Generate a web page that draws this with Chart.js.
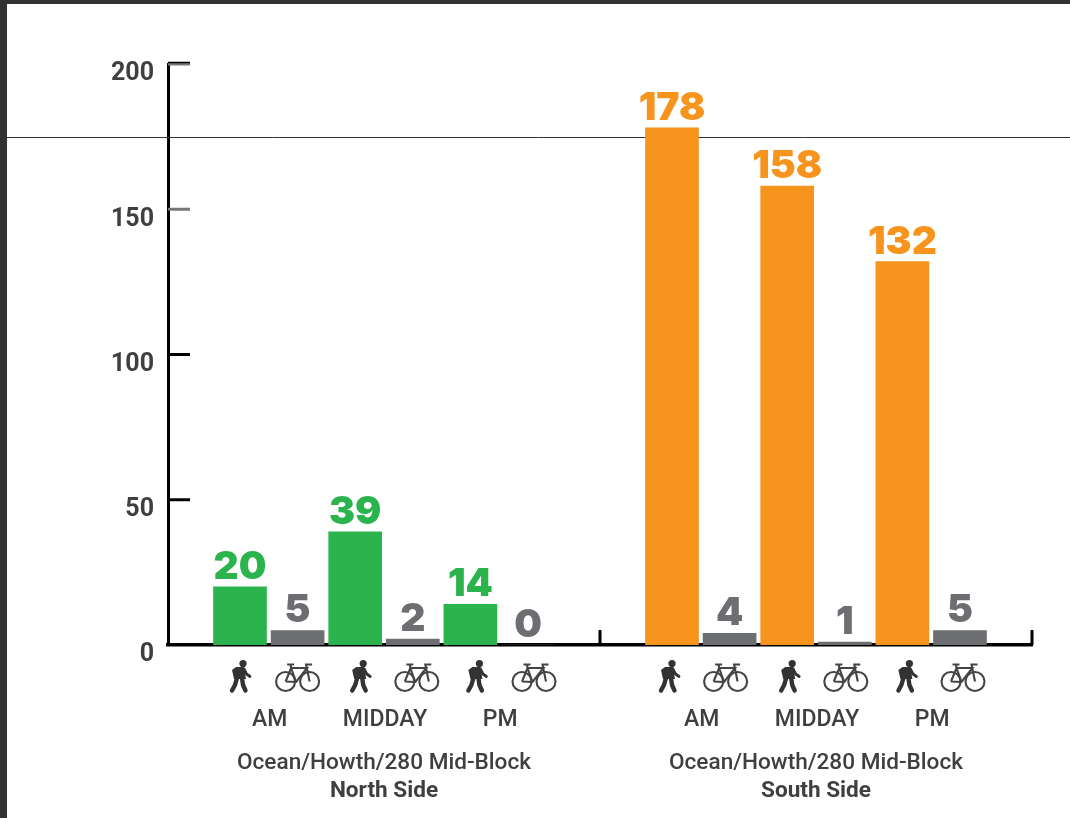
<!DOCTYPE html>
<html>
<head>
<meta charset="utf-8">
<script src="https://cdn.jsdelivr.net/npm/chart.js@4"></script>
<style>
    html, body { margin: 0; padding: 0; background: #fff; overflow: hidden; }
    #chart { position: absolute; left: 0; top: 0; }
    #frame {
        position: absolute; left: 0; top: 0; width: 1070px; height: 818px;
        box-sizing: border-box; border-top: 4px solid #333; border-left: 7px solid #333;
        pointer-events: none;
    }
</style>
</head>
<body>
<canvas id="chart" width="1070" height="818"></canvas>
<div id="frame"></div>
<script>
const periods = ['AM', 'MIDDAY', 'PM'];
const northWalk = [20, 39, 14];
const northBike = [5, 2, 0];
const southWalk = [178, 158, 132];
const southBike = [4, 1, 5];
const captions = ['Ocean/Howth/280 Mid-Block', 'Ocean/Howth/280 Mid-Block'];
const sides = ['North Side', 'South Side'];
const yTicks = [0, 50, 100, 150, 200];
const referenceValue = 175;

const GREEN = '#2bb44d';
const ORANGE = '#f7941e';
const GRAY = '#6d6e71';
const INK = '#3f3f40';

// The x axis is cut in 30 thin slots, a bar sits on every second one
const SLOT_COUNT = 30;
const NORTH_START = 2;
const SOUTH_START = 17;
const GROUP_DIVIDER = 14.5;

const slotLabels = new Array(SLOT_COUNT).fill('');
const slotsFor = (values, start) => {
    const slots = new Array(SLOT_COUNT).fill(null);
    values.forEach((v, i) => {
        slots[start + i * 4] = v;
        slotLabels[start + i * 4] = periods[i];
    });
    return slots;
};

const bar = (label, values, start, color) => ({
    label,
    data: slotsFor(values, start),
    backgroundColor: color,
    barThickness: 53
});

const drawWalker = (ctx, cx, top) => {
    ctx.save();
    ctx.translate(cx - 10, top);
    ctx.fillStyle = '#333';
    ctx.strokeStyle = '#333';
    ctx.lineCap = 'round';
    ctx.lineJoin = 'round';
    ctx.beginPath();
    ctx.arc(13, 3.6, 3.6, 0, Math.PI * 2);
    ctx.fill();
    // backpack and body
    ctx.beginPath();
    ctx.moveTo(2, 10);
    ctx.lineTo(6, 7);
    ctx.lineTo(14, 7);
    ctx.lineTo(16, 19);
    ctx.lineTo(4, 19);
    ctx.closePath();
    ctx.fill();
    // arm
    ctx.lineWidth = 2.8;
    ctx.beginPath();
    ctx.moveTo(14, 9);
    ctx.lineTo(16.5, 14);
    ctx.lineTo(20, 16.5);
    ctx.stroke();
    // legs
    ctx.lineWidth = 4.4;
    ctx.beginPath();
    ctx.moveTo(7, 18);
    ctx.lineTo(5, 25);
    ctx.lineTo(2, 30.5);
    ctx.moveTo(12, 18);
    ctx.lineTo(13, 25);
    ctx.lineTo(15.5, 30.5);
    ctx.stroke();
    ctx.restore();
};

const drawBike = (ctx, cx, top) => {
    ctx.save();
    ctx.translate(cx - 22.5, top);
    ctx.strokeStyle = '#444';
    ctx.lineWidth = 2.1;
    [[10.5, 18.5], [34.5, 18.5]].forEach(([x, y]) => {
        ctx.beginPath();
        ctx.arc(x, y, 9.5, 0, Math.PI * 2);
        ctx.stroke();
    });
    ctx.beginPath();
    ctx.moveTo(10.5, 18.5);
    ctx.lineTo(16, 5);
    ctx.lineTo(32, 5);
    ctx.lineTo(21, 19);
    ctx.lineTo(10.5, 18.5);
    ctx.moveTo(16, 5);
    ctx.lineTo(21, 19);
    ctx.moveTo(34.5, 18.5);
    ctx.lineTo(31, 1.5);
    ctx.lineTo(37, 1.5);
    ctx.moveTo(12, 1.5);
    ctx.lineTo(19, 1.5);
    ctx.moveTo(15.5, 1.5);
    ctx.lineTo(16, 5);
    ctx.stroke();
    ctx.restore();
};

// Axis details sitting under the bars
const axisMarks = {
    id: 'axisMarks',
    beforeDatasetsDraw(chart) {
        const { ctx, chartArea, scales } = chart;
        const { x, y } = scales;
        ctx.save();

        // thin line running across the page
        ctx.strokeStyle = '#333';
        ctx.lineWidth = 1;
        const refY = Math.round(y.getPixelForValue(referenceValue)) + 0.5;
        ctx.beginPath();
        ctx.moveTo(7, refY);
        ctx.lineTo(chart.width, refY);
        ctx.stroke();

        // ticks inside the y axis
        yTicks.forEach(v => {
            if (v === 0) return;
            const py = y.getPixelForValue(v);
            ctx.strokeStyle = v >= 150 ? '#777' : '#000';
            ctx.lineWidth = 3;
            ctx.beginPath();
            ctx.moveTo(chartArea.left, py);
            ctx.lineTo(chartArea.left + 22, py);
            ctx.stroke();
        });
        ctx.strokeStyle = '#000';
        ctx.lineWidth = 1.5;
        ctx.beginPath();
        ctx.moveTo(chartArea.left, chartArea.top - 1.5);
        ctx.lineTo(chartArea.left + 22, chartArea.top - 1.5);
        ctx.stroke();

        // group dividers on the x axis
        ctx.lineWidth = 3;
        [x.getPixelForValue(GROUP_DIVIDER), chartArea.right].forEach(px => {
            ctx.beginPath();
            ctx.moveTo(px, chartArea.bottom);
            ctx.lineTo(px, chartArea.bottom - 15);
            ctx.stroke();
        });
        ctx.restore();
    }
};

const barValues = {
    id: 'barValues',
    afterDatasetsDraw(chart) {
        const { ctx } = chart;
        ctx.save();
        ctx.font = '900 39px Inter, "Liberation Sans", sans-serif';
        ctx.textAlign = 'center';
        ctx.textBaseline = 'alphabetic';
        chart.data.datasets.forEach((ds, i) => {
            chart.getDatasetMeta(i).data.forEach((el, j) => {
                if (ds.data[j] === null) return;
                ctx.fillStyle = ds.backgroundColor;
                ctx.fillText(String(ds.data[j]), el.x, el.y - 8);
            });
        });
        ctx.restore();
    }
};

// Icons and the text below the axis
const underAxis = {
    id: 'underAxis',
    afterDraw(chart) {
        const { ctx } = chart;
        const x = chart.scales.x;
        const walkNudge = [[0, 5, 6], [-3, 2, 4]];
        const bikeNudge = [[0, 4, 6], [-4, 1, 3]];
        ctx.save();
        ctx.textAlign = 'center';
        ctx.textBaseline = 'alphabetic';
        ctx.fillStyle = INK;
        [NORTH_START, SOUTH_START].forEach((start, g) => {
            periods.forEach((name, i) => {
                const walkX = x.getPixelForValue(start + i * 4);
                const bikeX = x.getPixelForValue(start + i * 4 + 2);
                drawWalker(ctx, walkX + walkNudge[g][i], 660);
                drawBike(ctx, bikeX + bikeNudge[g][i], 663);
                ctx.font = '500 23px Roboto, sans-serif';
                ctx.fillText(name, (walkX + bikeX) / 2 + 1, 726);
            });
            const mid = x.getPixelForValue(start + 5);
            ctx.font = '500 22.6px Roboto, sans-serif';
            ctx.fillText(captions[g], mid, 769);
            ctx.font = 'bold 22.6px Roboto, sans-serif';
            ctx.fillText(sides[g], mid, 797);
        });
        ctx.restore();
    }
};

new Chart(document.getElementById('chart'), {
    type: 'bar',
    data: {
        labels: slotLabels,
        datasets: [
            bar('North Side walking', northWalk, NORTH_START, GREEN),
            bar('North Side cycling', northBike, NORTH_START + 2, GRAY),
            bar('South Side walking', southWalk, SOUTH_START, ORANGE),
            bar('South Side cycling', southBike, SOUTH_START + 2, GRAY)
        ]
    },
    options: {
        responsive: false,
        animation: false,
        devicePixelRatio: 1,
        layout: { padding: { top: 64, right: 38, bottom: 0, left: 0 } },
        plugins: { legend: { display: false }, tooltip: { enabled: false } },
        scales: {
            x: {
                stacked: true,
                afterFit: scale => { scale.height = 173; },
                ticks: { display: false },
                grid: { display: false, drawTicks: false },
                border: { color: '#000', width: 3.5 }
            },
            y: {
                stacked: true,
                min: 0,
                max: 200,
                afterFit: scale => { scale.width = 168; },
                afterBuildTicks: scale => { scale.ticks = yTicks.map(value => ({ value })); },
                ticks: {
                    color: INK,
                    padding: 14,
                    labelOffset: 10,
                    font: { family: 'Roboto, sans-serif', size: 25, weight: 'bold' }
                },
                grid: { display: false, drawTicks: false },
                border: { color: '#000', width: 3 }
            }
        }
    },
    plugins: [axisMarks, barValues, underAxis]
});
</script>
</body>
</html>
